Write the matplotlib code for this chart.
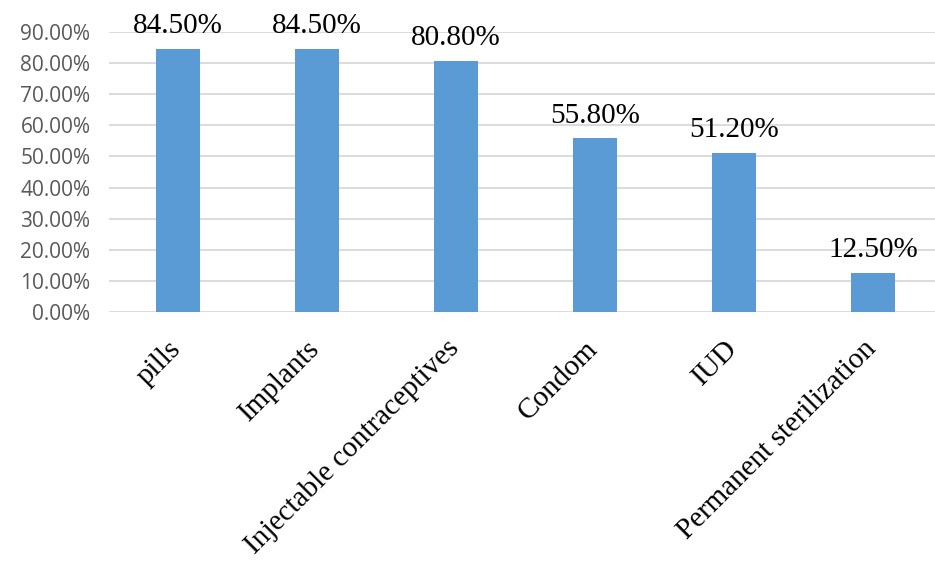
import matplotlib
matplotlib.use("Agg")
import matplotlib.pyplot as plt
from matplotlib.ticker import FuncFormatter, MultipleLocator
from matplotlib.transforms import ScaledTranslation

methods = ["pills", "Implants", "Injectable contraceptives", "Condom", "IUD",
           "Permanent sterilization"]
shares = [84.5, 84.5, 80.8, 55.8, 51.2, 12.5]

BAR_COLOR = "#5B9BD5"
GRID_COLOR = "#D9D9D9"

fig = plt.figure(figsize=(9.35, 5.64), dpi=100)
ax = fig.add_axes([108.5 / 935, (564 - 312) / 564, (935 - 108.5) / 935, 280 / 564])

x = range(len(methods))
ax.bar(x, shares, width=0.32, color=BAR_COLOR, zorder=3)

for xi, v in zip(x, shares):
    ax.annotate(f"{v:.2f}%", (xi, v), xytext=(0, 7), textcoords="offset points",
                ha="center", va="bottom", fontsize=21,
                family="Liberation Serif", color="black", zorder=4)

ax.set_ylim(0, 90)
ax.set_xlim(-0.5, 5.5 - 7.5 / 139)
ax.yaxis.set_major_locator(MultipleLocator(10))
ax.yaxis.set_major_formatter(FuncFormatter(lambda v, _: f"{v:.2f}%"))
ax.grid(axis="y", color=GRID_COLOR, linewidth=1.3, zorder=0)
ax.set_axisbelow(True)
for s in ax.spines.values():
    s.set_visible(False)
ax.tick_params(axis="both", length=0)
ax.tick_params(axis="y", pad=13, labelsize=15, labelcolor="#595959")
for lbl in ax.get_yticklabels():
    lbl.set_family("Open Sans")

ax.set_xticks(list(x))
ax.set_xticklabels(methods, rotation=45, ha="right", va="top",
                   rotation_mode="anchor", fontsize=21, family="Liberation Serif")
ax.tick_params(axis="x", pad=17)
shift = ScaledTranslation(-10 / 100, 0, fig.dpi_scale_trans)
for lbl in ax.get_xticklabels():
    lbl.set_transform(lbl.get_transform() + shift)

fig.savefig("out.png", dpi=100)
